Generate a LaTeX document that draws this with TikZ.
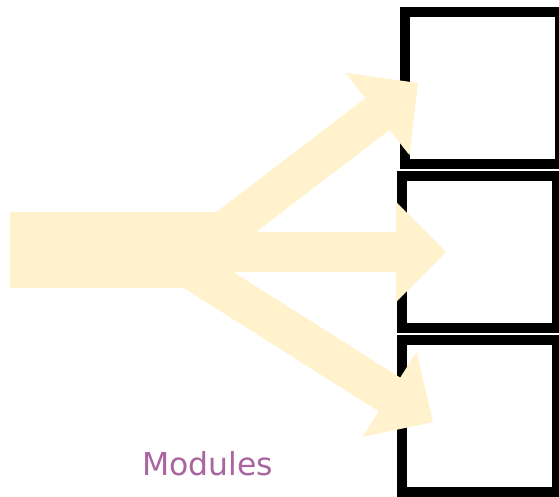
\documentclass[tikz,border=0pt]{standalone}
\usepackage{fontspec}
\setmainfont{DejaVu Sans}
\definecolor{flowfill}{HTML}{FFF2CC}
\definecolor{labelpurple}{HTML}{AA64A0}
\begin{document}
\begin{tikzpicture}[x=1pt,y=-1pt,
  modbox/.style={draw=black, line width=10pt, fill=white, rectangle,
    inner sep=0pt, outer sep=0pt, minimum width=155pt, minimum height=152pt},
  flow/.style={fill=flowfill, draw=none},
  caption/.style={text=labelpurple, font=\fontsize{31.5}{37}\selectfont, inner sep=0pt}]
\useasboundingbox (0,0) rectangle (559,496);

% the three module boxes
\node[modbox] (m1) at (482.5,88) {};
\node[modbox] (m2) at (479.5,252) {};
\node[modbox] (m3) at (479.5,416) {};

% one wide flow splitting into three arrows
\fill[flow] (10,212) -- (216.4,212) -- (365.4,98.1) -- (345.5,72.8)
  -- (418,83) -- (409.5,155.2) -- (389.6,129.9) -- (256,232)
  -- (396,232) -- (396,202) -- (446,252) -- (396,302) -- (396,272)
  -- (233.4,272) -- (400.2,377.6) -- (416.5,352) -- (433,422)
  -- (362.5,437) -- (378.8,411.4) -- (183.9,288) -- (10,288) -- cycle;

% caption
\node[caption, anchor=base] (lbl) at (207.5,475.5) {Modules};
\end{tikzpicture}
\end{document}
